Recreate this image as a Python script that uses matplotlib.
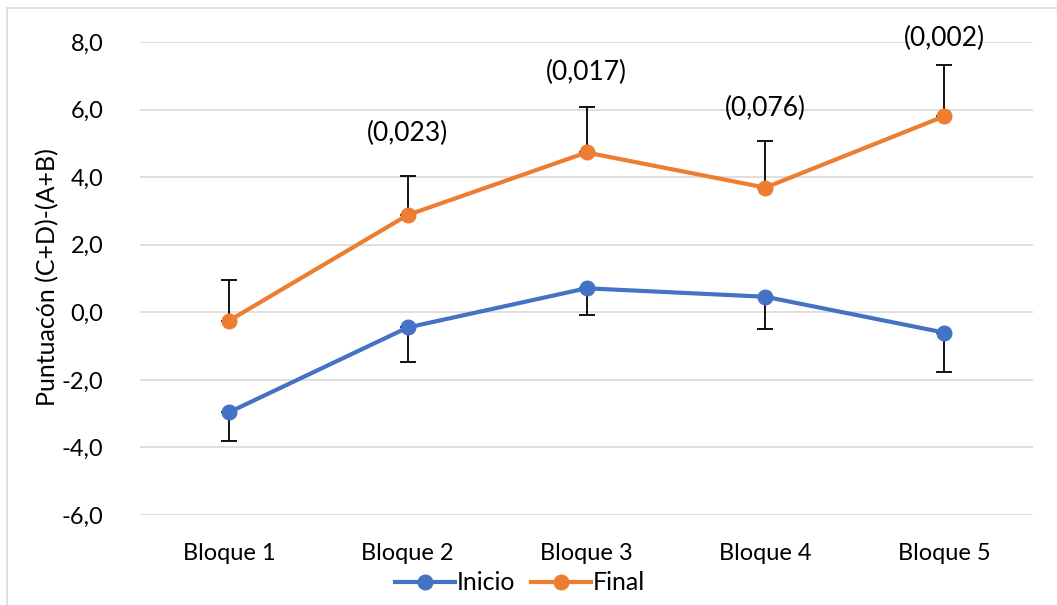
import matplotlib
matplotlib.use("Agg")
import matplotlib.pyplot as plt
from matplotlib.patches import Rectangle

# Data
bloques = ["Bloque 1", "Bloque 2", "Bloque 3", "Bloque 4", "Bloque 5"]
inicio = [-2.96, -0.45, 0.71, 0.46, -0.60]
inicio_err = [0.85, 1.03, 0.79, 0.96, 1.16]     # lower error
final = [-0.25, 2.88, 4.73, 3.69, 5.80]
final_err = [1.21, 1.16, 1.36, 1.38, 1.53]      # upper error
p_labels = ["", "(0,023)", "(0,017)", "(0,076)", "(0,002)"]
p_label_y = [None, 5.28, 7.09, 6.02, 8.10]
y_ticks = [-6, -4, -2, 0, 2, 4, 6, 8]

BLUE = "#4472C4"
ORANGE = "#ED7D31"
FONT = ["Lato", "DejaVu Sans"]
plt.rcParams["font.family"] = FONT

W, H = 1057, 605
fig = plt.figure(figsize=(W / 100, H / 100), dpi=100)
ax = fig.add_axes([139.6 / W, 1 - 515 / H, (1033.4 - 139.6) / W, (515 - 42) / H])

# Outer chart frame
fig.patches.append(Rectangle((7 / W, -0.01), 1.05, 1 - 8 / H + 0.01,
                             transform=fig.transFigure, fill=False,
                             edgecolor="#D9D9D9", linewidth=1.2))

x = list(range(len(bloques)))

ax.errorbar(x, inicio, yerr=[inicio_err, [0] * len(x)], fmt="none",
            ecolor="black", elinewidth=1.3, capsize=6, capthick=1.3, zorder=2)
ax.errorbar(x, final, yerr=[[0] * len(x), final_err], fmt="none",
            ecolor="black", elinewidth=1.3, capsize=6, capthick=1.3, zorder=2)

ax.plot(x, inicio, color=BLUE, linewidth=3, marker="o", markersize=10.5,
        label="Inicio", zorder=3)
ax.plot(x, final, color=ORANGE, linewidth=3, marker="o", markersize=10.5,
        label="Final", zorder=3)

for xi, lab, yl in zip(x, p_labels, p_label_y):
    if lab:
        ax.text(xi, yl, lab, ha="center", va="center", fontsize=19, color="black")

ax.set_xlim(-0.5, len(bloques) - 0.5)
ax.set_ylim(-6, 8)
ax.set_yticks(y_ticks)
ax.set_yticklabels([f"{v:.1f}".replace(".", ",") for v in y_ticks], fontsize=17)
ax.set_xticks(x)
ax.set_xticklabels(bloques, fontsize=17)
ax.tick_params(axis="both", length=0, colors="black")
ax.tick_params(axis="y", pad=26)
ax.tick_params(axis="x", pad=20)

ax.grid(axis="y", color="#D9D9D9", linewidth=1.2)
ax.set_axisbelow(True)
for s in ax.spines.values():
    s.set_visible(False)

ax.set_ylabel("Puntuacón (C+D)-(A+B)", fontsize=18, va="center")
ax.yaxis.set_label_coords(-0.1025, 0.503)

leg = fig.legend(loc="center", bbox_to_anchor=(520 / W, 1 - 583 / H), ncol=2,
                 frameon=False, fontsize=18, handlelength=2.4, handletextpad=0.1,
                 columnspacing=0.6)

fig.savefig("out.png", dpi=100)
